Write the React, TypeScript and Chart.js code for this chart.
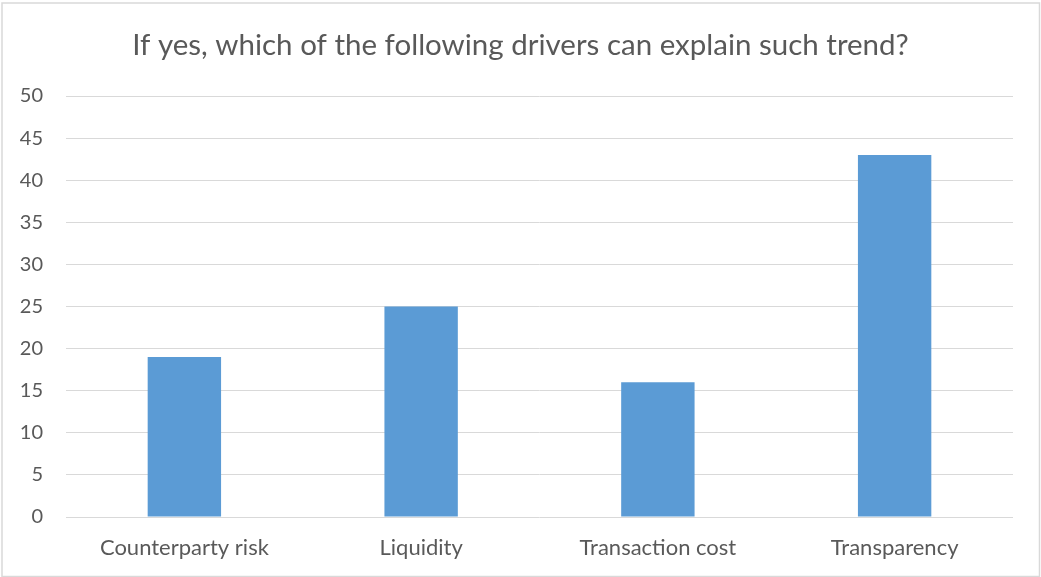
import React, { useEffect, useRef } from "react";
import { Chart, registerables } from "chart.js";

Chart.register(...registerables);

const categories = ["Counterparty risk", "Liquidity", "Transaction cost", "Transparency"];
const values = [19, 25, 16, 43];
const titleText = "If yes, which of the following drivers can explain such trend?";
const yMin = 0;
const yMax = 50;
const yStep = 5;

const FONT = "Lato, 'Open Sans', sans-serif";
const TEXT = "#595959";

const borderPlugin = {
  id: "outerBorder",
  beforeDraw(chart: any) {
    const { ctx, width, height } = chart;
    ctx.save();
    ctx.fillStyle = "#ffffff";
    ctx.fillRect(0, 0, width, height);
    ctx.strokeStyle = "#d9d9d9";
    ctx.lineWidth = 1.5;
    ctx.strokeRect(2, 3, width - 3.5, height - 3.5);
    ctx.restore();
  },
};

export default function App() {
  const ref = useRef<HTMLCanvasElement>(null);
  useEffect(() => {
    if (!ref.current) return;
    const chart = new Chart(ref.current, {
      type: "bar",
      data: {
        labels: categories,
        datasets: [
          {
            data: values,
            backgroundColor: "#5b9bd5",
            borderWidth: 0,
            categoryPercentage: 1,
            barPercentage: 0.31,
          },
        ],
      },
      options: {
        responsive: false,
        animation: false,
        devicePixelRatio: 1,
        layout: { padding: 0 },
        plugins: {
          legend: { display: false },
          tooltip: { enabled: false },
          title: {
            display: true,
            text: titleText,
            color: TEXT,
            font: { family: FONT, size: 29.5, weight: "normal", lineHeight: 1.2 },
            padding: { top: 27.3, bottom: 33.3 },
          },
        },
        scales: {
          x: {
            grid: { display: false, drawTicks: false },
            border: { display: false },
            ticks: {
              color: TEXT,
              font: { family: FONT, size: 22 },
              padding: 18,
              maxRotation: 0,
              autoSkip: false,
            },
            afterFit(scale: any) {
              scale.height = 60;
            },
          },
          y: {
            min: yMin,
            max: yMax,
            grid: { color: "#d9d9d9", lineWidth: 1, drawTicks: false },
            border: { display: false },
            ticks: {
              stepSize: yStep,
              color: TEXT,
              font: { family: FONT, size: 20 },
              padding: 23,
            },
            afterFit(scale: any) {
              scale.width = 66;
            },
          },
          yRight: {
            position: "right",
            min: yMin,
            max: yMax,
            grid: { display: false, drawTicks: false },
            border: { display: false },
            ticks: { display: false },
            afterFit(scale: any) {
              scale.width = 28;
            },
          },
        },
      },
      plugins: [borderPlugin],
    });
    return () => chart.destroy();
  }, []);
  return (
    <div style={{ position: "absolute", left: 0, top: 0, width: 1041, height: 577 }}>
      <canvas ref={ref} width={1041} height={577} style={{ display: "block" }} />
    </div>
  );
}
